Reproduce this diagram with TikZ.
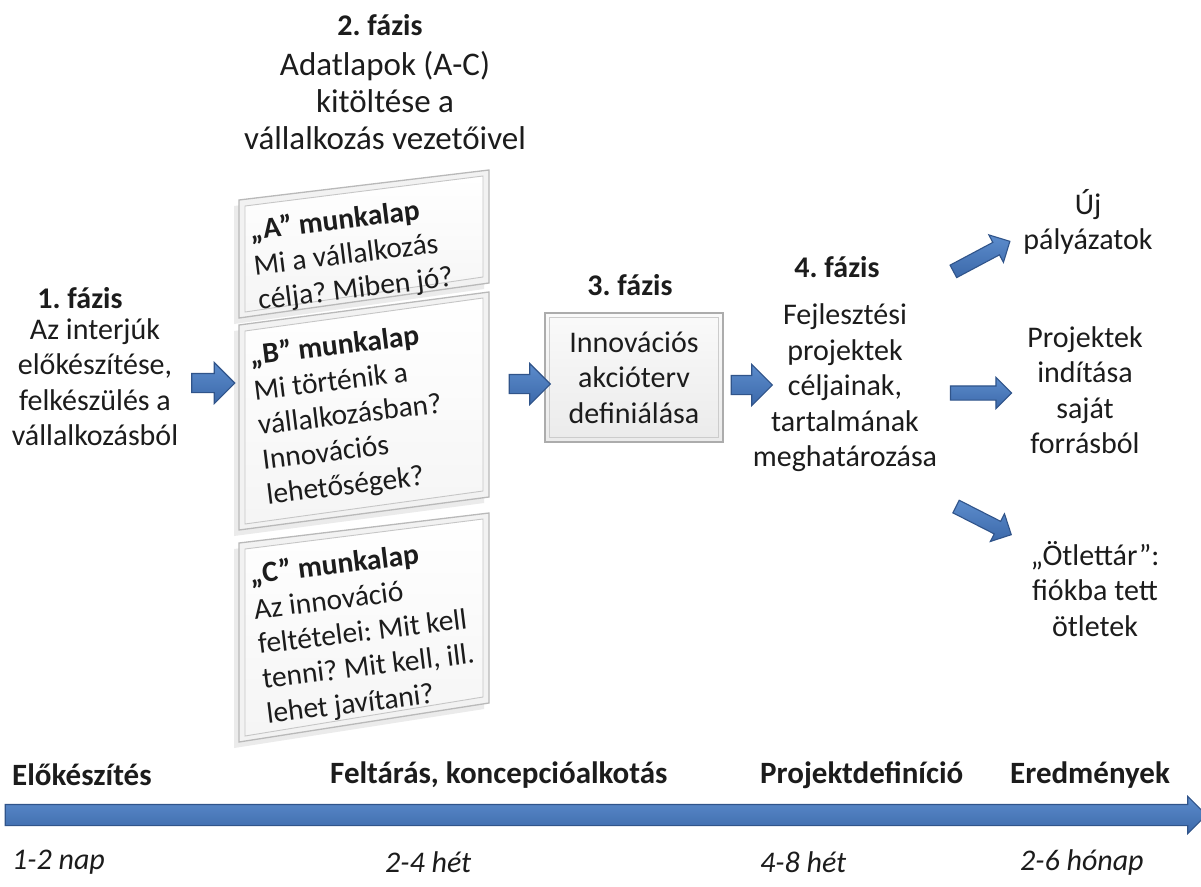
\documentclass[tikz,border=0pt]{standalone}
\usepackage{fontspec}
\setmainfont{Carlito}
\frenchspacing
\usetikzlibrary{shapes.arrows,calc}
\definecolor{arrtop}{RGB}{92,140,204}
\definecolor{arrbot}{RGB}{60,105,170}
\definecolor{arrline}{RGB}{48,84,138}
\definecolor{txt}{RGB}{28,28,28}
\newcommand\drawsheet[5]{%
  \coordinate (#1-tl) at (239,#2);
  \coordinate (#1-tr) at (489,#3);
  \coordinate (#1-br) at (489,#4);
  \coordinate (#1-bl) at (239,#5);
  \fill[black!8] ($(#1-tl)+(-5,6)$) -- ($(#1-tr)+(-5,6)$) -- ($(#1-br)+(-5,6)$) -- ($(#1-bl)+(-5,6)$) -- cycle;
  \draw[frameouter] (#1-tl) -- (#1-tr) -- (#1-br) -- (#1-bl) -- cycle;
  \draw[frameinner] ($(#1-tl)+(6,6)$) -- ($(#1-tr)+(-6,6)$) -- ($(#1-br)+(-6,-6)$) -- ($(#1-bl)+(6,-6)$) -- cycle;
}
\begin{document}
\begin{tikzpicture}[x=1pt,y=-1pt,
  every node/.style={text=txt},
  body/.style={align=center, inner sep=0pt, font=\fontsize{30}{35.5}\selectfont},
  phasetitle/.style={inner sep=0pt, font=\bfseries\fontsize{30}{35.5}\selectfont},
  sheettext/.style={rotate=7, align=left, inner sep=0pt, anchor=north west, font=\fontsize{29.5}{35}\selectfont},
  frameouter/.style={draw=gray!55, line width=1.3pt, fill=gray!10},
  frameinner/.style={draw=gray!45, line width=0.9pt, top color=white, bottom color=gray!8},
  blockarrow/.style={single arrow, draw=arrline, line width=1.1pt, top color=arrtop, bottom color=arrbot,
     inner xsep=0pt, minimum width=0pt, single arrow head extend=#1},
  tllabel/.style={anchor=west, inner sep=0pt, font=\bfseries\fontsize{31}{36}\selectfont},
  tltime/.style={anchor=west, inner sep=0pt, font=\itshape\fontsize{30}{36}\selectfont}
]
\useasboundingbox (0,0) rectangle (1201,886);
\fill[white] (0,0) rectangle (1201,886);

% phase 1
\node[phasetitle] (p1t) at (80,298) {1. fázis};
\node[body] (p1) at (95,382) {Az interjúk\\előkészítése,\\felkészülés a\\vállalkozásból};

% phase 2
\node[phasetitle] (p2t) at (380,25) {2. fázis};
\node[align=center, inner sep=0pt, font=\fontsize{33}{37}\selectfont] (p2) at (385,101) {Adatlapok (A-C)\\kitöltése a\\vállalkozás vezetőivel};

\drawsheet{sa}{200}{170}{283}{318}
\drawsheet{sb}{325}{292}{497}{530}
\drawsheet{sc}{543}{513}{703}{742}

\node[sheettext] (ta) at (248,219) {\textbf{„A” munkalap}\\Mi a vállalkozás\\célja? Miben jó?};
\node[sheettext] (tb) at (248,344) {\textbf{„B” munkalap}\\Mi történik a\\vállalkozásban?\\Innovációs\\lehetőségek?};
\node[sheettext] (tc) at (248,563) {\textbf{„C” munkalap}\\Az innováció\\feltételei: Mit kell\\tenni? Mit kell, ill.\\lehet javítani?};

% phase 3
\node[phasetitle] (p3t) at (630,285) {3. fázis};
\node[draw=gray!65, line width=1.6pt, top color=gray!4, bottom color=gray!16,
      minimum width=178pt, minimum height=129pt, align=center, inner sep=0pt,
      font=\fontsize{30}{35.5}\selectfont] (box3) at (634,377.5) {Innovációs\\akcióterv\\definiálása};
\draw[gray!40, line width=0.8pt] ($(box3.north west)+(5,5)$) rectangle ($(box3.south east)+(-5,-5)$);

% phase 4
\node[phasetitle] (p4t) at (837,267) {4. fázis};
\node[body] (p4) at (845,388) {Fejlesztési\\projektek\\céljainak,\\tartalmának\\meghatározása};

% outcomes
\node[body] (o1) at (1088,222) {Új\\pályázatok};
\node[body] (o2) at (1085,390) {Projektek\\indítása\\saját\\forrásból};
\node[body] (o3) at (1095,589) {„Ötlettár”:\\fiókba tett\\ötletek};

% block arrows
\node[blockarrow=11pt, inner ysep=9pt, minimum height=43pt] (a1) at (208.5,383) {};
\node[blockarrow=11pt, inner ysep=9pt, minimum height=41pt] (a2) at (525,384) {};
\node[blockarrow=11pt, inner ysep=9pt, minimum height=41pt] (a3) at (747,385) {};
\node[blockarrow=8.5pt, inner ysep=6.5pt, minimum height=64pt, rotate=28] (a4) at (978.5,258) {};
\node[blockarrow=8.5pt, inner ysep=6.5pt, minimum height=61pt] (a5) at (977.5,393) {};
\node[blockarrow=8.5pt, inner ysep=6.5pt, minimum height=62pt, rotate=-27] (a6) at (980.5,519) {};

% timeline
\node[tllabel] (l1) at (12,775) {Előkészítés};
\node[tllabel] (l2) at (330,775) {Feltárás, koncepcióalkotás};
\node[tllabel] (l3) at (760,775) {Projektdefiníció};
\node[tllabel] (l4) at (1010,775) {Eredmények};
\node[blockarrow=8pt, inner ysep=10pt, minimum height=1201pt] (axis) at (600.5,815) {};
\node[tltime] (d1) at (12,862) {1-2 nap};
\node[tltime] (d2) at (385,862) {2-4 hét};
\node[tltime] (d3) at (760,862) {4-8 hét};
\node[tltime] (d4) at (1020,862) {2-6 hónap};
\end{tikzpicture}
\end{document}
